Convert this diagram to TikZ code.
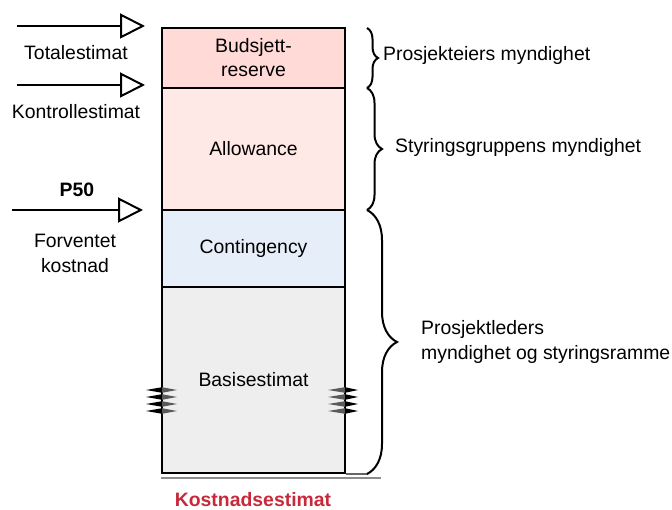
\documentclass[tikz,border=0pt]{standalone}
\usepackage{fontspec}
\setmainfont{Liberation Sans}
\usetikzlibrary{arrows.meta,decorations.pathreplacing}
\definecolor{reservefill}{HTML}{FFDAD6}
\definecolor{allowfill}{HTML}{FFE9E6}
\definecolor{contfill}{HTML}{E6EFF9}
\definecolor{basisfill}{HTML}{EEEEEE}
\definecolor{titlered}{HTML}{C8283A}
\tikzset{
  lbl/.style={font=\fontsize{19.4}{25}\selectfont, inner sep=0pt, align=center},
  layer/.style={draw=black, line width=2pt, minimum width=183pt, inner sep=0pt,
    font=\fontsize{19.4}{24}\selectfont, align=center},
  pointer/.style={line width=2pt, -{Triangle[open, length=25pt, width=25pt, line width=2pt]}},
  curly/.style={line width=2pt, decorate},
  spikeout/.style={fill=black},
  spikein/.style={fill=black!65},
}
\begin{document}
\begin{tikzpicture}[x=1pt,y=-1pt]
\useasboundingbox (0,0) rectangle (672,510);

% stacked cost layers
\node[layer, fill=reservefill, minimum height=60pt] (reserve) at (253.5,58) {Budsjett-\\reserve};
\node[layer, fill=allowfill, minimum height=122pt] (allowance) at (253.5,149) {Allowance};
\node[layer, fill=contfill, minimum height=77pt] (contingency) at (253.5,248.5) {Contingency};
\node[layer, fill=basisfill, minimum height=186pt] (basis) at (253.5,380) {Basisestimat};

% base line under the stack
\draw[black!45, line width=1.2pt] (basis.south west) ++(0,4) coordinate (baseL) -- ++(220,0) coordinate (baseR);
\draw[black!60, line width=1.5pt] (basis.south east) -- ++(22,0) coordinate (baseE);

% break marks on both sides of the base estimate
\foreach \y in {390,397,404,411} {
  \fill[spikeout] (162,\y-2.8) -- (146,\y) -- (162,\y+2.8) -- cycle;
  \fill[spikein] (162,\y-2.8) -- (177,\y) -- (162,\y+2.8) -- cycle;
  \fill[spikein] (345,\y-2.8) -- (328,\y) -- (345,\y+2.8) -- cycle;
  \fill[spikeout] (345,\y-2.8) -- (358,\y) -- (345,\y+2.8) -- cycle;
}

% estimate markers
\coordinate (totS) at (17,26);   \coordinate (totE) at (145,26);
\coordinate (konS) at (17,85);   \coordinate (konE) at (145,85);
\coordinate (p50S) at (12,210);  \coordinate (p50E) at (143,210);
\draw[pointer] (totS) -- (totE);
\draw[pointer] (konS) -- (konE);
\draw[pointer] (p50S) -- (p50E);
\node[lbl] (totlbl) at (76,53) {Totalestimat};
\node[lbl] (konlbl) at (76,112) {Kontrollestimat};
\node[lbl, font=\fontsize{19.4}{25}\selectfont\bfseries] (p50lbl) at (77,190) {P50};
\node[lbl] (forvlbl) at (75,253.5) {Forventet\\kostnad};

% authority braces
\coordinate (b1t) at (367,28);  \coordinate (b1b) at (367,88);
\coordinate (b2t) at (367,88);  \coordinate (b2b) at (367,210);
\coordinate (b3t) at (367,210); \coordinate (b3b) at (367,474);
\draw[curly, decoration={brace, amplitude=11pt}] (b1t) -- (b1b);
\draw[curly, decoration={brace, amplitude=15pt}] (b2t) -- (b2b);
\draw[curly, decoration={brace, amplitude=30pt}] (b3t) -- (b3b);
\node[lbl, anchor=west] (eier) at (383,55) {Prosjekteiers myndighet};
\node[lbl, anchor=west] (styr) at (395,147) {Styringsgruppens myndighet};
\node[lbl, anchor=west, align=left] (leder) at (421,341.5) {Prosjektleders\\myndighet og styringsramme};

% caption
\node[lbl, text=titlered, font=\fontsize{19.4}{25}\selectfont\bfseries] (caption) at (253,500) {Kostnadsestimat};
\end{tikzpicture}
\end{document}
